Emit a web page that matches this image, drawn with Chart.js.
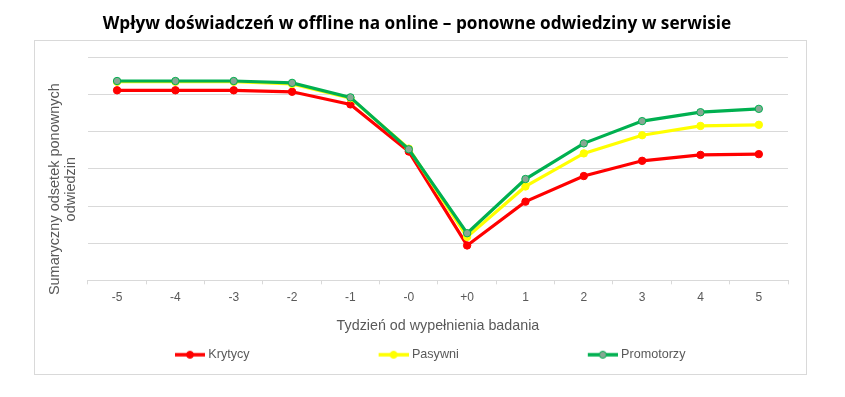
<!DOCTYPE html>
<html>
<head>
<meta charset="utf-8">
<script src="https://cdn.jsdelivr.net/npm/chart.js@4/dist/chart.umd.min.js"></script>
<style>
  html, body { margin: 0; padding: 0; background: #ffffff; }
  #wrap { position: relative; width: 845px; height: 397px; }
</style>
</head>
<body>
<div id="wrap"><canvas id="c" width="845" height="397"></canvas></div>
<script>
const chartTitle = 'Wpływ doświadczeń w offline na online – ponowne odwiedziny w serwisie';
const xAxisTitle = 'Tydzień od wypełnienia badania';
const yAxisTitle = ['Sumaryczny odsetek ponownych          ', 'odwiedzin          '];
const weeks = ['-5', '-4', '-3', '-2', '-1', '-0', '+0', '1', '2', '3', '4', '5'];
const seriesNames = ['Krytycy', 'Pasywni', 'Promotorzy'];
const krytycy   = [5.12, 5.12, 5.12, 5.08, 4.74, 3.47, 0.94, 2.12, 2.81, 3.22, 3.38, 3.40];
const pasywni   = [5.35, 5.35, 5.35, 5.29, 4.91, 3.55, 1.17, 2.53, 3.42, 3.91, 4.16, 4.19];
const promotorzy= [5.37, 5.37, 5.37, 5.32, 4.93, 3.53, 1.27, 2.73, 3.69, 4.29, 4.53, 4.62];

const lineColors = ['#ff0000', '#ffff00', '#00b050'];
const pointFills = ['#ff0000', '#ffff00', '#86a894'];
const values = [krytycy, pasywni, promotorzy];

const LEG_BOX = 154;
function legendIcon(i) {
  const cv = document.createElement('canvas');
  cv.width = LEG_BOX + 6;
  cv.height = 10;
  const g = cv.getContext('2d');
  const x1 = cv.width - 30, x2 = cv.width;
  g.strokeStyle = lineColors[i];
  g.lineWidth = 3.5;
  g.beginPath(); g.moveTo(x1, 5); g.lineTo(x2, 5); g.stroke();
  g.beginPath(); g.arc((x1 + x2) / 2, 5, 3.5, 0, Math.PI * 2);
  g.fillStyle = pointFills[i]; g.fill();
  g.lineWidth = 1; g.strokeStyle = lineColors[i]; g.stroke();
  return cv;
}

const frame = {
  id: 'frame',
  beforeDraw(chart) {
    const ctx = chart.ctx;
    ctx.save();
    ctx.fillStyle = '#ffffff';
    ctx.fillRect(0, 0, chart.width, chart.height);
    ctx.strokeStyle = '#d9d9d9';
    ctx.lineWidth = 1;
    ctx.strokeRect(34.5, 40.5, 772, 334);
    ctx.restore();
  }
};

new Chart(document.getElementById('c'), {
  type: 'line',
  data: {
    labels: weeks,
    datasets: seriesNames.map((name, i) => ({
      label: name,
      data: values[i],
      borderColor: lineColors[i],
      backgroundColor: pointFills[i],
      pointBackgroundColor: pointFills[i],
      pointBorderColor: lineColors[i],
      pointBorderWidth: 1,
      pointRadius: 3.7,
      borderWidth: 3.2,
      tension: 0,
      fill: false,
      order: 3 - i
    }))
  },
  options: {
    responsive: false,
    devicePixelRatio: 1,
    animation: false,
    layout: { padding: { left: 46, right: 57, top: 0, bottom: 26 } },
    plugins: {
      title: {
        display: true,
        text: chartTitle,
        color: '#000000',
        font: { family: 'Open Sans', size: 17.2, weight: 'bold' },
        padding: { top: 14, bottom: 23 }
      },
      legend: {
        position: 'bottom',
        align: 'start',
        labels: {
          usePointStyle: true,
          pointStyleWidth: LEG_BOX,
          padding: 2,
          color: '#595959',
          font: { family: 'Liberation Sans', size: 12.6 },
          sort: (a, b) => a.datasetIndex - b.datasetIndex,
          generateLabels(chart) {
            const items = Chart.defaults.plugins.legend.labels.generateLabels(chart);
            items.forEach(it => { it.pointStyle = legendIcon(it.datasetIndex); });
            return items;
          }
        }
      },
      tooltip: { enabled: false }
    },
    scales: {
      x: {
        offset: true,
        grid: { drawOnChartArea: false, drawTicks: true, tickLength: 4, color: '#d9d9d9', offset: true },
        border: { color: '#d9d9d9' },
        ticks: { color: '#595959', font: { family: 'Liberation Sans', size: 12 }, padding: 6, maxRotation: 0 },
        title: {
          display: true, text: xAxisTitle, color: '#595959',
          font: { family: 'Liberation Sans', size: 14.3 },
          padding: { top: 6.5, bottom: 12 }
        }
      },
      y: {
        min: 0, max: 6,
        ticks: { display: false, stepSize: 1 },
        grid: { color: '#d9d9d9', drawTicks: false, tickLength: 0 },
        border: { display: false },
        title: {
          display: true, text: yAxisTitle, color: '#595959',
          font: { family: 'Liberation Sans', size: 14.5, lineHeight: 1.1 },
          padding: { top: 1, bottom: 9 }
        }
      }
    }
  },
  plugins: [frame]
});
</script>
</body>
</html>
